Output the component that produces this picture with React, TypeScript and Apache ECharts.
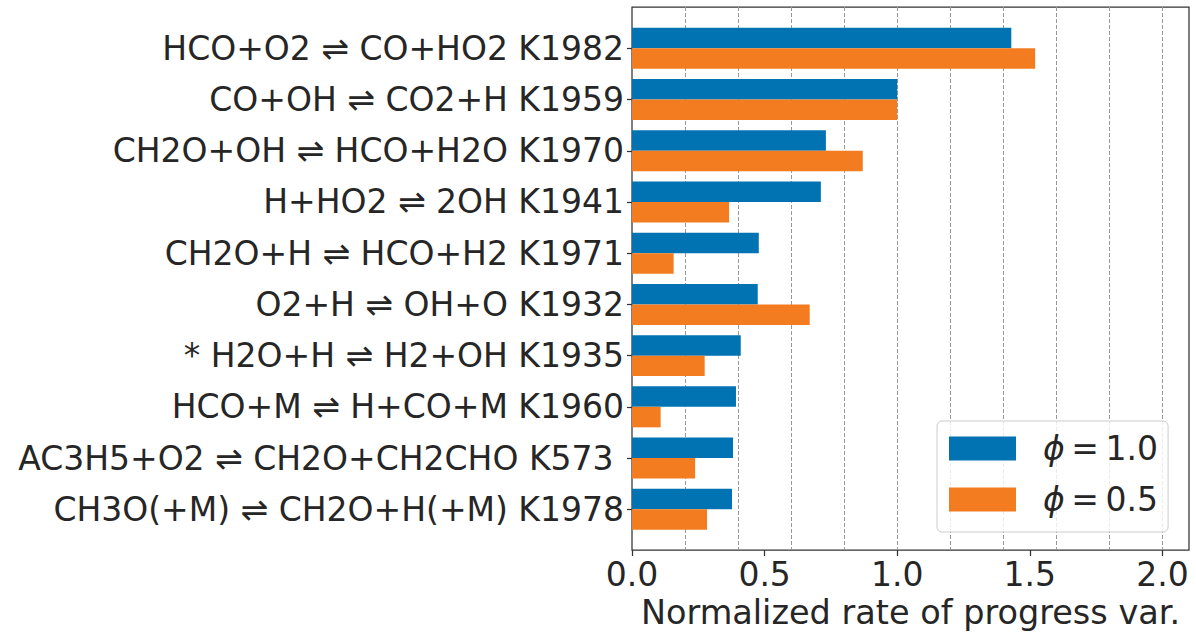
import React, { useEffect, useRef } from 'react';
import * as echarts from 'echarts';

const reactions = [
  'HCO+O2 ⇌ CO+HO2 K1982',
  'CO+OH ⇌ CO2+H K1959',
  'CH2O+OH ⇌ HCO+H2O K1970',
  'H+HO2 ⇌ 2OH K1941',
  'CH2O+H ⇌ HCO+H2 K1971',
  'O2+H ⇌ OH+O K1932',
  '* H2O+H ⇌ H2+OH K1935',
  'HCO+M ⇌ H+CO+M K1960',
  'AC3H5+O2 ⇌ CH2O+CH2CHO K573\u00a0',
  'CH3O(+M) ⇌ CH2O+H(+M) K1978',
];
const phi10 = [1.43, 1.0, 0.731, 0.712, 0.478, 0.474, 0.41, 0.392, 0.381, 0.377];
const phi05 = [1.52, 1.0, 0.87, 0.366, 0.157, 0.67, 0.274, 0.108, 0.238, 0.283];
const seriesNames = ['ϕ = 1.0', 'ϕ = 0.5'];
const xTickValues = [0, 0.5, 1.0, 1.5, 2.0];
const xLabel = 'Normalized rate of progress var.';

export default function App() {
  const ref = useRef<HTMLDivElement>(null);
  useEffect(() => {
    const chart = echarts.init(ref.current!, null, { renderer: 'svg' });
    const font = 'DejaVu Sans';
    const textColor = '#262626';
    chart.setOption({
      animation: false,
      backgroundColor: '#ffffff',
      textStyle: { fontFamily: font },
      grid: [
        { left: 632, top: 7, width: 557, height: 543, show: true, borderColor: '#333333', borderWidth: 1.25, backgroundColor: 'transparent' },
        { left: 632, top: 22.7, width: 557, height: 512.2 },
      ],
      xAxis: [
        {
          gridIndex: 0,
          type: 'value',
          position: 'bottom',
          min: 0,
          max: 2.1,
          interval: 0.5,
          axisLine: { show: false },
          axisTick: { show: true, customValues: xTickValues, length: 6, lineStyle: { color: '#333333', width: 1.25 } },
          axisLabel: {
            customValues: xTickValues,
            formatter: (v: number) => v.toFixed(1),
            fontSize: 33,
            color: textColor,
            fontFamily: font,
            margin: 8,
          },
          splitLine: { show: false },
          name: xLabel,
          nameLocation: 'middle',
          nameGap: 44,
          nameTextStyle: { fontSize: 33.5, color: textColor, fontFamily: font },
        },
        {
          gridIndex: 0,
          type: 'value',
          position: 'top',
          min: 0,
          max: 2.1,
          interval: 0.2,
          axisLine: { show: false },
          axisTick: { show: false },
          axisLabel: { show: false },
          splitLine: { show: true, showMinLine: false, showMaxLine: false, lineStyle: { color: '#999999', type: [4, 2], width: 1 } },
        },
        { gridIndex: 1, type: 'value', min: 0, max: 2.1, show: false },
      ],
      yAxis: [
        { gridIndex: 0, type: 'value', show: false },
        {
          gridIndex: 1,
          type: 'category',
          data: reactions,
          inverse: true,
          axisLine: { show: false },
          axisTick: { show: true, alignWithLabel: true, length: 5, lineStyle: { color: '#333333', width: 1.25 } },
          axisLabel: { fontSize: 33, color: textColor, fontFamily: font, margin: 8 },
          splitLine: { show: false },
        },
      ],
      legend: {
        orient: 'vertical',
        left: 937,
        top: 421,
        padding: [11, 10, 16, 12],
        itemGap: 18,
        itemWidth: 67,
        itemHeight: 24,
        icon: 'rect',
        backgroundColor: 'rgba(255,255,255,0.8)',
        borderColor: '#cccccc',
        borderWidth: 1,
        borderRadius: 5,
        data: seriesNames,
        formatter: (name: string) => '{i|' + name.slice(0, 1) + '}{t|' + name.slice(1).replace(/ /g, '\u2009') + '}',
        textStyle: {
          padding: [0, 0, 0, 22],
          rich: {
            i: { fontSize: 33, fontStyle: 'italic', color: textColor, fontFamily: font },
            t: { fontSize: 33, color: textColor, fontFamily: font },
          },
        },
      },
      series: [
        {
          name: seriesNames[0],
          type: 'bar',
          xAxisIndex: 2,
          yAxisIndex: 1,
          data: phi10,
          barWidth: '40%',
          barGap: '0%',
          itemStyle: { color: '#0173b2' },
        },
        {
          name: seriesNames[1],
          type: 'bar',
          xAxisIndex: 2,
          yAxisIndex: 1,
          data: phi05,
          barWidth: '40%',
          barGap: '0%',
          itemStyle: { color: '#f37c20' },
        },
      ],
    });
    return () => chart.dispose();
  }, []);
  return <div ref={ref} style={{ position: 'fixed', left: 0, top: 0, width: 1196, height: 637, background: '#fff' }} />;
}
